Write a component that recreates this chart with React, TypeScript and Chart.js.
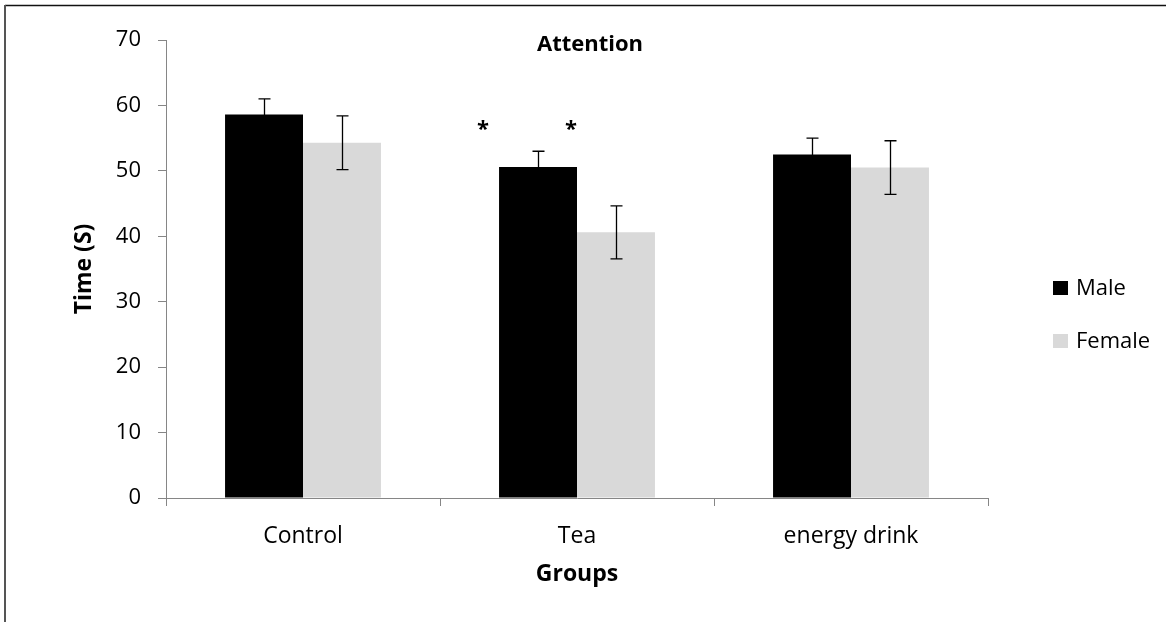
import React, { useEffect, useRef } from "react";
import { Chart, registerables } from "chart.js";

Chart.register(...registerables);

// ---- data ----
const categories = ["Control", "Tea", "energy drink"];
const seriesNames = ["Male", "Female"];
const maleValues = [58.6, 50.6, 52.5];
const femaleValues = [54.3, 40.6, 50.5];
const maleErrors = [2.4, 2.4, 2.5];
const femaleErrors = [4.1, 4.05, 4.1];
const yTicks = [0, 10, 20, 30, 40, 50, 60, 70];
const significanceMale = ["", "*", ""];
const significanceFemale = ["", "*", ""];
const significanceLevel = 56.9;
const chartTitle = "Attention";
const xTitle = "Groups";
const yTitle = "Time (S)";

// ---- style ----
const FONT = "'Open Sans', 'DejaVu Sans', sans-serif";
const MALE_COLOR = "#000000";
const FEMALE_COLOR = "#d9d9d9";
const AXIS_COLOR = "#868686";
const ASTERISK_SHIFT = [-0.705, -0.577];

const errorsBySeries = [maleErrors, femaleErrors];
const sigBySeries = [significanceMale, significanceFemale];

const framePlugin = {
  id: "frame",
  beforeDraw(chart: any) {
    const { ctx, width, height } = chart;
    ctx.save();
    ctx.fillStyle = "#ffffff";
    ctx.fillRect(0, 0, width, height);
    ctx.strokeStyle = "#111111";
    ctx.lineWidth = 1.5;
    ctx.beginPath();
    ctx.moveTo(5, 5.5);
    ctx.lineTo(width, 5.5);
    ctx.stroke();
    ctx.strokeStyle = "#555555";
    ctx.lineWidth = 2;
    ctx.beginPath();
    ctx.moveTo(5, 5);
    ctx.lineTo(5, height);
    ctx.stroke();
    ctx.restore();
  },
};

const errorBarPlugin = {
  id: "errorBars",
  afterDatasetsDraw(chart: any) {
    const { ctx } = chart;
    const yScale = chart.scales.y;
    ctx.save();
    ctx.strokeStyle = "#000000";
    ctx.lineWidth = 1.3;
    chart.data.datasets.forEach((ds: any, i: number) => {
      const meta = chart.getDatasetMeta(i);
      meta.data.forEach((bar: any, j: number) => {
        const v = ds.data[j];
        const e = errorsBySeries[i][j];
        const x = Math.round(bar.x) + 0.5;
        const yTop = yScale.getPixelForValue(v + e);
        const yBot = yScale.getPixelForValue(v - e);
        const cap = 6;
        ctx.beginPath();
        ctx.moveTo(x, yTop);
        ctx.lineTo(x, yBot);
        ctx.moveTo(x - cap, yTop);
        ctx.lineTo(x + cap, yTop);
        ctx.moveTo(x - cap, yBot);
        ctx.lineTo(x + cap, yBot);
        ctx.stroke();
      });
    });
    ctx.restore();
  },
};

const annotationPlugin = {
  id: "annotations",
  afterDraw(chart: any) {
    const { ctx, chartArea, height } = chart;
    const yScale = chart.scales.y;
    ctx.save();
    // significance asterisks
    ctx.fillStyle = "#000000";
    ctx.font = `bold 22px ${FONT}`;
    ctx.textAlign = "center";
    ctx.textBaseline = "middle";
    chart.data.datasets.forEach((_ds: any, i: number) => {
      const meta = chart.getDatasetMeta(i);
      meta.data.forEach((bar: any, j: number) => {
        const s = sigBySeries[i][j];
        if (!s) return;
        const x = bar.x + ASTERISK_SHIFT[i] * bar.width;
        const y = yScale.getPixelForValue(significanceLevel);
        ctx.fillText(s, x, y + 4);
      });
    });
    // title
    ctx.font = `bold 22px ${FONT}`;
    ctx.fillText(chartTitle, (chartArea.left + chartArea.right) / 2 + 13, chartArea.top + 5);
    // legend
    ctx.font = `22px ${FONT}`;
    ctx.textAlign = "left";
    const boxX = chartArea.right + 65;
    const centers = [height / 2 - 23, height / 2 + 30];
    chart.data.datasets.forEach((ds: any, i: number) => {
      const cy = centers[i];
      ctx.fillStyle = ds.backgroundColor;
      ctx.fillRect(boxX, cy - 7, 15, 14);
      ctx.fillStyle = "#000000";
      ctx.fillText(ds.label, boxX + 23, cy + 1);
    });
    ctx.restore();
  },
};

export default function App() {
  const canvasRef = useRef<HTMLCanvasElement | null>(null);

  useEffect(() => {
    document.body.style.margin = "0";
    const canvas = canvasRef.current;
    if (!canvas) return;
    Chart.defaults.font.family = FONT;
    const chart = new Chart(canvas, {
      type: "bar",
      data: {
        labels: categories,
        datasets: [
          {
            label: seriesNames[0],
            data: maleValues,
            backgroundColor: MALE_COLOR,
            borderWidth: 0,
            categoryPercentage: 0.569,
            barPercentage: 1.0,
          },
          {
            label: seriesNames[1],
            data: femaleValues,
            backgroundColor: FEMALE_COLOR,
            borderWidth: 0,
            categoryPercentage: 0.569,
            barPercentage: 1.0,
          },
        ],
      },
      options: {
        animation: false,
        responsive: false,
        maintainAspectRatio: false,
        layout: { padding: { left: 0, top: 40, right: 178, bottom: 0 } },
        plugins: {
          legend: { display: false },
          title: { display: false },
          tooltip: { enabled: false },
        },
        scales: {
          x: {
            type: "category",
            offset: true,
            grid: {
              display: true,
              offset: true,
              drawOnChartArea: false,
              drawTicks: true,
              tickLength: 8,
              color: AXIS_COLOR,
              lineWidth: 1,
            },
            border: { display: true, color: AXIS_COLOR, width: 1 },
            ticks: { font: { family: FONT, size: 23 }, color: "#000000", padding: 17 },
            title: {
              display: true,
              text: xTitle,
              color: "#000000",
              font: { family: FONT, size: 23, weight: "bold" },
              padding: { top: 0, bottom: 34 },
            },
            afterFit: (s: any) => {
              s.height = 124;
            },
          },
          y: {
            type: "linear",
            min: 0,
            max: 70,
            afterBuildTicks: (s: any) => {
              s.ticks = yTicks.map((v) => ({ value: v }));
            },
            grid: {
              display: true,
              drawOnChartArea: false,
              drawTicks: true,
              tickLength: 8,
              color: AXIS_COLOR,
              lineWidth: 1,
            },
            border: { display: true, color: AXIS_COLOR, width: 1 },
            ticks: { font: { family: FONT, size: 22 }, color: "#000000", padding: 17 },
            title: {
              display: true,
              text: yTitle,
              color: "#000000",
              font: { family: FONT, size: 23, weight: "bold" },
              padding: { top: 71, bottom: 0 },
            },
            afterFit: (s: any) => {
              s.width = 166;
            },
          },
        },
      },
      plugins: [framePlugin, errorBarPlugin, annotationPlugin],
    } as any);
    return () => chart.destroy();
  }, []);

  return (
    <div style={{ position: "fixed", left: 0, top: 0, width: 1166, height: 622, background: "#fff" }}>
      <canvas ref={canvasRef} width={1166} height={622} style={{ width: 1166, height: 622, display: "block" }} />
    </div>
  );
}
